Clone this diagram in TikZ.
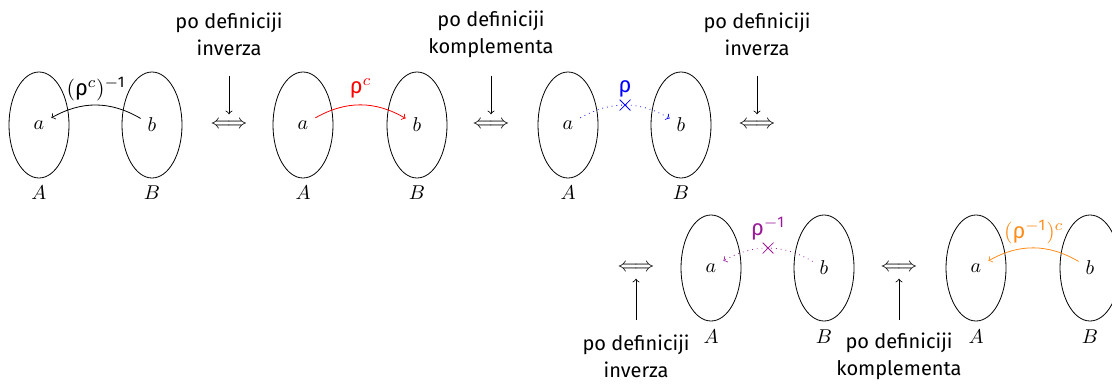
\documentclass[tikz,border=0pt]{standalone}
\usepackage{amsmath}
\usepackage{fontspec}
\setmainfont{Fira Sans}
\usetikzlibrary{shapes.geometric,shapes.misc}
\definecolor{relpurple}{rgb}{0.6,0.1,0.6}
\definecolor{relorange}{rgb}{1,0.55,0.1}
\newcommand{\rh}{\text{ρ}}
\newcommand{\one}{\text{1}}
\begin{document}
\begin{tikzpicture}[x=0.5pt,y=-0.5pt,
  setshape/.style={draw,ellipse,minimum width=30pt,minimum height=53pt,inner sep=0pt},
  note/.style={align=center},
  crossmark/.style={cross out,draw,solid,minimum size=5pt,inner sep=0pt},
  rellabel/.style={font=\fontsize{11}{13}\selectfont},
  rel/.style={->}
]
\useasboundingbox (0,0) rectangle (1112,385);
% ---- group 1
\node[setshape] (A1) at (39,125) {};
\node[setshape] (B1) at (152,125) {};
\node (a1) at (39,125) {$a$};
\node (b1) at (152,125) {$b$};
\node (LA1) at (39,193) {$A$};
\node (LB1) at (152,193) {$B$};
\draw[rel] (b1) to[bend right] node[above,rellabel,inner sep=2pt] {$(\rh^c)^{-\one}$} (a1);
% ---- eqv 1
\node (E1) at (229,125) {$\Longleftrightarrow$};
\node[note] (N1) at (229,34) {po definiciji\\[1.5pt]inverza};
\coordinate (T1) at (229,76);
\draw[->] (T1) -- (E1);
% ---- group 2
\node[setshape] (A2) at (303,125) {};
\node[setshape] (B2) at (417,125) {};
\node (a2) at (303,125) {$a$};
\node (b2) at (417,125) {$b$};
\node (LA2) at (303,193) {$A$};
\node (LB2) at (417,193) {$B$};
\draw[rel,red] (a2) to[bend left] node[above,rellabel] {$\rh^c$} (b2);
% ---- eqv 2
\node (E2) at (491,125) {$\Longleftrightarrow$};
\node[note] (N2) at (491,34) {po definiciji\\[1.5pt]komplementa};
\coordinate (T2) at (491,76);
\draw[->] (T2) -- (E2);
% ---- group 3
\node[setshape] (A3) at (568,125) {};
\node[setshape] (B3) at (681,125) {};
\node (a3) at (568,125) {$a$};
\node (b3) at (681,125) {$b$};
\node (LA3) at (568,193) {$A$};
\node (LB3) at (681,193) {$B$};
\draw[rel,blue,dotted] (a3) to[bend left] node[crossmark,label={[blue,rellabel,inner sep=1pt]above:$\rh$}] (X3) {} (b3);
% ---- eqv 3
\node (E3) at (757,125) {$\Longleftrightarrow$};
\node[note] (N3) at (757,34) {po definiciji\\[1.5pt]inverza};
\coordinate (T3) at (757,76);
\draw[->] (T3) -- (E3);
% ---- eqv 4 (lower row)
\node (E4) at (636,268) {$\Longleftrightarrow$};
\node[note] (N4) at (636,356) {po definiciji\\[1.5pt]inverza};
\coordinate (T4) at (636,320);
\draw[->] (T4) -- (E4);
% ---- group 5
\node[setshape] (A5) at (711,268) {};
\node[setshape] (B5) at (824,268) {};
\node (a5) at (711,268) {$a$};
\node (b5) at (824,268) {$b$};
\node (LA5) at (711,337) {$A$};
\node (LB5) at (824,337) {$B$};
\draw[rel,relpurple,dotted] (b5) to[bend right] node[crossmark,label={[relpurple,rellabel,inner sep=1pt]above:$\rh^{-\one}$}] (X5) {} (a5);
% ---- eqv 5
\node (E5) at (899,268) {$\Longleftrightarrow$};
\node[note] (N5) at (899,356) {po definiciji\\[1.5pt]komplementa};
\coordinate (T5) at (899,320);
\draw[->] (T5) -- (E5);
% ---- group 6
\node[setshape] (A6) at (976,268) {};
\node[setshape] (B6) at (1090,268) {};
\node (a6) at (976,268) {$a$};
\node (b6) at (1090,268) {$b$};
\node (LA6) at (976,337) {$A$};
\node (LB6) at (1090,337) {$B$};
\draw[rel,relorange] (b6) to[bend right] node[above,rellabel,inner sep=2pt] {$(\rh^{-\one})^c$} (a6);
\end{tikzpicture}
\end{document}
